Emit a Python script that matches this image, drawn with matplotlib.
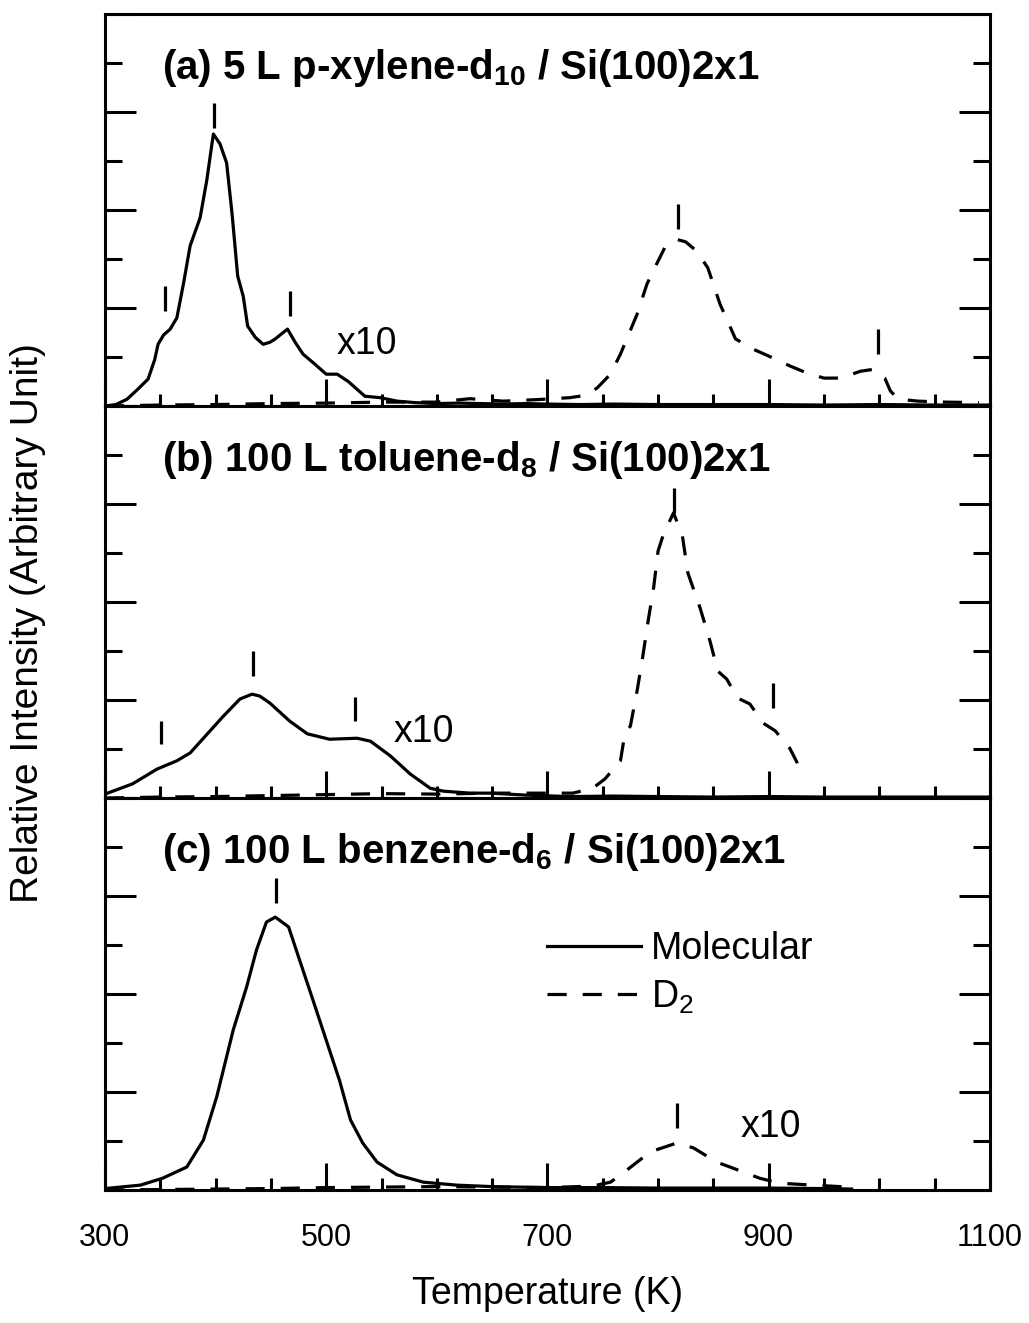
import matplotlib.pyplot as plt
from matplotlib.ticker import MultipleLocator, FixedLocator

plt.rcParams['font.family'] = ['Liberation Sans', 'DejaVu Sans']
plt.rcParams['mathtext.fontset'] = 'custom'
plt.rcParams['mathtext.rm'] = 'Liberation Sans'
plt.rcParams['mathtext.bf'] = 'Liberation Sans:bold'
plt.rcParams['axes.linewidth'] = 2.2

# (a) p-xylene-d10
a_mol_T = [300, 310, 320, 330, 339, 345, 348, 353, 359, 365, 371, 377, 386, 392, 398, 404, 410, 415, 420,
           425, 429, 436, 443, 449, 454, 460, 465, 472, 479, 490, 500, 510, 520, 535, 549, 564, 580, 600,
           620, 640, 660, 680, 700, 730, 760, 800, 850, 900, 950, 1000, 1050, 1100]
a_mol_I = [0.0, 0.03, 0.14, 0.35, 0.55, 0.95, 1.26, 1.45, 1.57, 1.8, 2.5, 3.27, 3.84, 4.6, 5.55, 5.35, 4.96,
           3.9, 2.65, 2.24, 1.63, 1.4, 1.26, 1.3, 1.37, 1.48, 1.57, 1.3, 1.06, 0.85, 0.65, 0.65, 0.5, 0.2,
           0.17, 0.1, 0.07, 0.05, 0.06, 0.05, 0.04, 0.05, 0.04, 0.03, 0.04, 0.03, 0.03, 0.03, 0.02, 0.03,
           0.02, 0.02]
a_d2_T = [300, 350, 400, 450, 500, 550, 600, 630, 660, 690, 720, 735, 745, 757, 766, 781, 790, 797, 806,
          817, 825, 835, 845, 852, 856, 863, 870, 886, 900, 919, 935, 950, 965, 983, 995, 1005, 1010, 1017,
          1035, 1060, 1090]
a_d2_I = [0.0, 0.02, 0.03, 0.05, 0.06, 0.08, 0.08, 0.15, 0.1, 0.13, 0.17, 0.22, 0.37, 0.65, 1.06, 1.87,
          2.49, 2.82, 3.23, 3.4, 3.35, 3.16, 2.82, 2.35, 2.08, 1.73, 1.37, 1.16, 1.02, 0.82, 0.67, 0.57,
          0.57, 0.71, 0.75, 0.57, 0.31, 0.14, 0.1, 0.08, 0.07]

# (b) toluene-d8
b_mol_T = [300, 325, 347, 365, 377, 395, 407, 422, 433, 440, 449, 467, 483, 503, 515, 528, 540, 558, 576,
           594, 606, 630, 648, 680, 720, 760, 800, 850, 900, 950, 1000, 1050, 1100]
b_mol_I = [0.08, 0.29, 0.59, 0.76, 0.92, 1.37, 1.67, 2.02, 2.12, 2.08, 1.94, 1.57, 1.31, 1.2, 1.21, 1.22,
           1.16, 0.86, 0.49, 0.2, 0.14, 0.1, 0.1, 0.06, 0.03, 0.04, 0.03, 0.02, 0.03, 0.02, 0.02, 0.02, 0.02]
b_d2_T = [300, 350, 400, 450, 500, 550, 600, 650, 700, 723, 741, 752, 766, 770, 775, 781, 786, 791, 796,
          800, 805, 814, 822, 827, 838, 847, 854, 862, 872, 883, 895, 906, 919, 926]
b_d2_I = [0.0, 0.02, 0.03, 0.05, 0.07, 0.09, 0.08, 0.1, 0.1, 0.1, 0.2, 0.39, 0.76, 1.31, 1.47, 2.18, 2.86,
          3.61, 4.29, 5.04, 5.39, 5.82, 5.35, 4.59, 3.88, 3.2, 2.59, 2.43, 2.04, 1.92, 1.53, 1.37, 1.02, 0.71]

# (c) benzene-d6
c_mol_T = [300, 332, 352, 374, 389, 401, 416, 428, 437, 446, 454, 466, 476, 488, 500, 512, 522, 533, 546,
           564, 588, 618, 650, 700, 750, 800, 850, 900, 950, 975]
c_mol_I = [0.03, 0.1, 0.24, 0.47, 1.02, 1.9, 3.27, 4.14, 4.9, 5.47, 5.57, 5.37, 4.69, 3.88, 3.06, 2.24,
           1.43, 0.96, 0.57, 0.31, 0.16, 0.1, 0.07, 0.05, 0.05, 0.04, 0.04, 0.04, 0.03, 0.02]
c_d2_T = [300, 350, 400, 450, 500, 550, 600, 650, 700, 740, 757, 772, 793, 817, 832, 853, 865, 892, 910,
          940, 973]
c_d2_I = [0.0, 0.01, 0.02, 0.03, 0.05, 0.06, 0.07, 0.06, 0.05, 0.08, 0.16, 0.41, 0.78, 0.96, 0.86, 0.57,
          0.47, 0.24, 0.14, 0.1, 0.06]

# peak markers: temperature, bottom, top
a_peaks = [(354, 1.94, 2.45), (399, 5.67, 6.18), (467, 1.84, 2.35), (818, 3.61, 4.12), (999, 1.06, 1.57)]
b_peaks = [(351, 1.1, 1.57), (434, 2.49, 3.0), (526, 1.57, 2.06), (814, 5.82, 6.33), (904, 1.84, 2.35)]
c_peaks = [(455, 5.86, 6.37), (817, 1.27, 1.78)]

titles = [r'(a) 5 L p-xylene-d$_{\mathbf{10}}$ / Si(100)2x1',
          r'(b) 100 L toluene-d$_{\mathbf{8}}$ / Si(100)2x1',
          r'(c) 100 L benzene-d$_{\mathbf{6}}$ / Si(100)2x1']
x10_pos = [(537, 1.27), (588, 1.35), (902, 1.29)]
xticks = [300, 500, 700, 900, 1100]

panels = [(a_mol_T, a_mol_I, a_d2_T, a_d2_I, a_peaks),
          (b_mol_T, b_mol_I, b_d2_T, b_d2_I, b_peaks),
          (c_mol_T, c_mol_I, c_d2_T, c_d2_I, c_peaks)]

fig = plt.figure(figsize=(10.29, 13.23), dpi=100)
left, width, h = 0.102, 0.860, 0.2963
bottoms = [0.1005 + 2 * h, 0.1005 + h, 0.1005]
dash = (0, (6, 5))

for i, (mT, mI, dT, dI, peaks) in enumerate(panels):
    ax = fig.add_axes([left, bottoms[i], width, h])
    ax.plot(mT, mI, color='black', lw=2.3, label='Molecular')
    ax.plot(dT, dI, color='black', lw=2.3, linestyle=dash, label='D$_2$')
    for t, lo, hi in peaks:
        ax.vlines(t, lo, hi, color='black', lw=2.3)
    ax.set_xlim(300, 1100)
    ax.set_ylim(0, 8)
    ax.xaxis.set_major_locator(FixedLocator(xticks))
    ax.xaxis.set_minor_locator(MultipleLocator(50))
    ax.yaxis.set_major_locator(FixedLocator([0, 2, 4, 6, 8]))
    ax.yaxis.set_minor_locator(MultipleLocator(1))
    ax.tick_params(axis='x', which='both', direction='in', top=False, width=2.2)
    ax.tick_params(axis='x', which='major', length=19.5, pad=24, labelsize=22)
    ax.tick_params(axis='x', which='minor', length=8.6)
    ax.tick_params(axis='y', which='both', direction='in', left=True, right=True,
                   labelleft=False, width=2.2)
    ax.tick_params(axis='y', which='major', length=22)
    ax.tick_params(axis='y', which='minor', length=12)
    ax.text(0.064, 0.835, titles[i], transform=ax.transAxes, fontsize=29,
            fontweight='bold', va='baseline', ha='left')
    ax.text(x10_pos[i][0], x10_pos[i][1], 'x10', fontsize=27, ha='center', va='center')
    if i < 2:
        ax.tick_params(axis='x', labelbottom=False)
    else:
        ax.set_xlabel('Temperature (K)', fontsize=27, labelpad=16)
        ax.legend(loc='upper left', bbox_to_anchor=(0.5, 0.66), frameon=False, fontsize=27,
                  handlelength=2.5, handletextpad=0.25, borderpad=0, borderaxespad=0,
                  labelspacing=0.3)

fig.text(0.027, 0.529, 'Relative Intensity (Arbitrary Unit)', rotation=90, fontsize=28,
         ha='center', va='center')

fig.savefig('out.png', dpi=100)
